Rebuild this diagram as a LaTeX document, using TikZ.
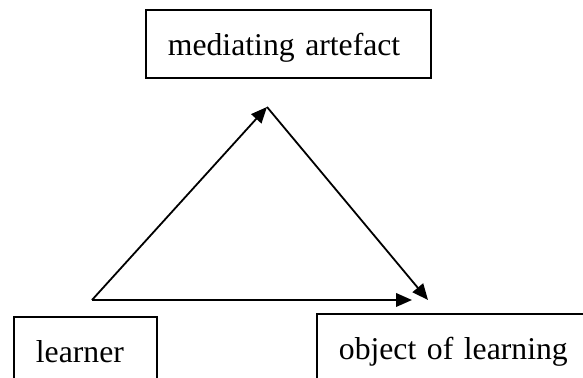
\documentclass[tikz,border=0pt]{standalone}
\usepackage{fontspec}
\setmainfont{Liberation Serif}
\usepackage{tikz}
\usepackage{xcolor}
\usetikzlibrary{arrows.meta,positioning}
\definecolor{ink}{HTML}{000000}
\tikzset{
  conceptbox/.style={draw=ink,line width=0.9pt,anchor=north west,
                     minimum height=34pt,inner xsep=11pt,inner ysep=0pt,
                     text height=12pt,text depth=0pt,align=left,
                     font=\fontsize{15.85}{19}\selectfont},
  flowarr/.style={-{Triangle[length=8pt,width=6.8pt]},line width=0.9pt,color=ink}
}

\begin{document}
\begin{tikzpicture}[x=0.5pt,y=-0.5pt]
      \useasboundingbox (0,0) rectangle (583,378);
      \clip (0,0) rectangle (583,378);
      % the three boxes
      \node[conceptbox,text width=120.5pt] (artefact) at (145,9) {mediating artefact};
      \node[conceptbox,text width=49.5pt] (learner) at (13,316) {learner};
      \node[conceptbox,text width=128pt] (object) at (316,313) {object of learning};
      % triangle of arrows
      \coordinate (base) at (92,300);
      \coordinate (apex) at (267,107);
      \coordinate (tipside) at (428,300);
      \coordinate (tipbase) at (412,300);
      \draw[flowarr] (base) -- (apex);
      \draw[flowarr] (apex) -- (tipside);
      \draw[flowarr] (base) -- (tipbase);
    \end{tikzpicture}
\end{document}
